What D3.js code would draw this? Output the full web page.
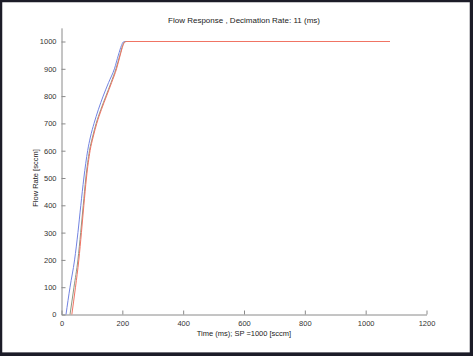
<!DOCTYPE html>
<html><head><meta charset="utf-8">
<script src="https://cdn.jsdelivr.net/npm/d3@7"></script>
<style>
html,body{margin:0;padding:0;background:#fff;}
svg{display:block;font-family:"Liberation Sans",Arial,sans-serif;}
</style></head>
<body>
<svg id="c" width="473" height="356"></svg>
<script>
const title = "Flow Response , Decimation Rate: 11 (ms)";
const xLabel = "Time (ms); SP =1000 [sccm]";
const yLabel = "Flow Rate [sccm]";
const xTicks = [0, 200, 400, 600, 800, 1000, 1200];
const yTicks = [0, 100, 200, 300, 400, 500, 600, 700, 800, 900, 1000];
const values    = [0, 100, 200, 300, 400, 500, 600, 650, 700, 750, 800, 850, 900, 950, 985, 998, 1000, 1000];
const timeBlue  = [14.8, 28, 43, 54, 63.5, 73.5, 86, 95, 107, 121, 137, 155, 174, 187, 197, 203, 210, 1080];
const timeGreen = [28, 41, 54, 63, 71.5, 80, 92, 102, 114, 129, 146, 163, 179, 192, 201, 207, 213, 1080];
const timeRed   = [34, 46, 57, 65.5, 73.5, 82, 94, 104, 116, 131, 148, 165, 181, 193, 202, 208, 214, 1080];
const seriesNames = ["blue", "green", "red"];
const seriesTimes = [timeBlue, timeGreen, timeRed];
const seriesColors = ["#7283e2", "#8c9a84", "#f07464"];

const svg = d3.select("#c");
// frame
svg.append("rect").attr("x",1).attr("y",1).attr("width",470).attr("height",353)
  .attr("fill","none").attr("stroke","#1c1c28").attr("stroke-width",2.5);
svg.append("rect").attr("x",470).attr("y",0).attr("width",3).attr("height",356).attr("fill","#1c1c28");
svg.append("rect").attr("x",0).attr("y",352.5).attr("width",473).attr("height",3.5).attr("fill","#1c1c28");

const x = d3.scaleLinear().domain([0,1200]).range([61.5,426.5]);
const y = d3.scaleLinear().domain([0,1050]).range([314.5,27.85]);

const axisColor = "#8a8a8a";
const gx = svg.append("g").attr("transform",`translate(0,${y(0)})`)
  .call(d3.axisBottom(x).tickValues(xTicks).tickSizeInner(-4).tickSizeOuter(0).tickPadding(6).tickFormat(d3.format("d")));
const gy = svg.append("g").attr("transform",`translate(${x(0)},0)`)
  .call(d3.axisLeft(y).tickValues(yTicks).tickSizeInner(-4).tickSizeOuter(0).tickPadding(5).tickFormat(d3.format("d")));
[gx,gy].forEach(g=>{
  g.select(".domain").attr("stroke",axisColor).attr("stroke-width",1);
  g.selectAll(".tick line").attr("stroke",axisColor);
  g.selectAll(".tick text").attr("fill","#333").attr("font-size","7.5px").attr("font-family","Liberation Sans, Arial, sans-serif");
});

const line = d3.line().x(d=>x(d[0])).y(d=>y(d[1])).curve(d3.curveMonotoneX);
seriesTimes.forEach((ts,i)=>{
  svg.append("path").datum(ts.map((t,j)=>[t, values[j]]))
    .attr("fill","none").attr("stroke",seriesColors[i]).attr("stroke-width", 1)
    .attr("d",line);
});

svg.append("text").attr("x",244).attr("y",23).attr("text-anchor","middle")
  .attr("font-size","8px").attr("fill","#222").text(title);
svg.append("text").attr("x",244).attr("y",336).attr("text-anchor","middle")
  .attr("font-size","7.5px").attr("fill","#222").text(xLabel);
svg.append("text").attr("transform","translate(38,178) rotate(-90)").attr("text-anchor","middle")
  .attr("font-size","7.5px").attr("fill","#222").text(yLabel);
</script>
</body></html>
